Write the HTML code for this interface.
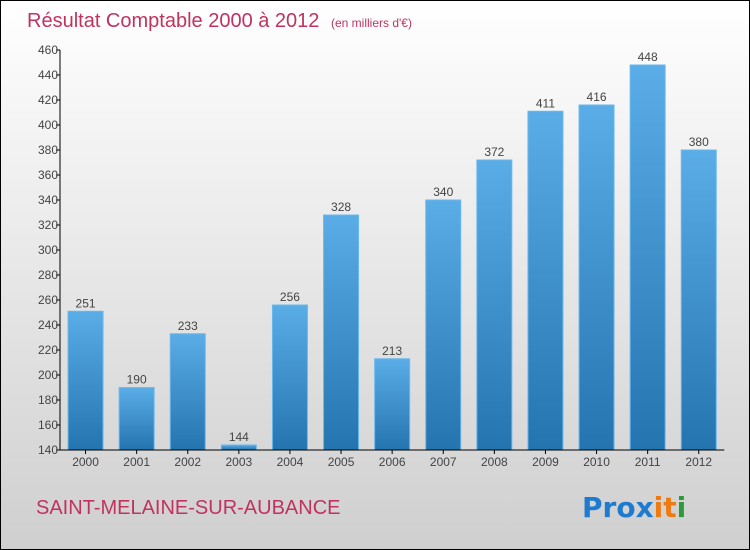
<!DOCTYPE html>
<html><head><meta charset="utf-8"><style>
body{margin:0}
svg{display:block;font-family:"Liberation Sans",sans-serif}
</style></head><body>
<svg width="750" height="550" viewBox="0 0 750 550" xmlns="http://www.w3.org/2000/svg">
<defs>
<linearGradient id="bg" x1="0" y1="0" x2="0" y2="1"><stop offset="0" stop-color="#ffffff"/><stop offset="1" stop-color="#cfcfcf"/></linearGradient>
<linearGradient id="bar" x1="0" y1="0" x2="0" y2="1"><stop offset="0" stop-color="#5aade6"/><stop offset="1" stop-color="#2474b0"/></linearGradient>
</defs>
<rect x="0.5" y="0.5" width="749" height="549" fill="url(#bg)" stroke="#000"/>
<text x="27" y="27" font-size="20" fill="#c0335f">Résultat Comptable 2000 à 2012 <tspan font-size="12" dx="6">(en milliers d'€)</tspan></text>
<g id="bars"></g>
<g id="axes"></g>
<text x="36" y="514" font-size="20" fill="#c0335f">SAINT-MELAINE-SUR-AUBANCE</text>
<g font-size="28" font-weight="bold" font-family="'DejaVu Sans',sans-serif">
<text x="582" y="517"><tspan fill="#1e7bd0">Pro</tspan><tspan fill="#1e7bd0">x</tspan><tspan fill="#f07a10">i</tspan><tspan fill="#f07a10">t</tspan><tspan fill="#2a9a3a">i</tspan></text>
</g>
</svg>
<script>
const categories=["2000","2001","2002","2003","2004","2005","2006","2007","2008","2009","2010","2011","2012"];
const values=[251,190,233,144,256,328,213,340,372,411,416,448,380];
const yTicks=[140,160,180,200,220,240,260,280,300,320,340,360,380,400,420,440,460];
const NS="http://www.w3.org/2000/svg";
const x0=60,band=51.1,y0=450,yMin=140,yMax=460,plotH=400;
const y=v=>y0-(v-yMin)/(yMax-yMin)*plotH;
const bx=i=>x0+band*(i+0.5);
function mk(tag,attrs,parent){const e=document.createElementNS(NS,tag);for(const k in attrs)e.setAttribute(k,attrs[k]);parent.appendChild(e);return e;}
const gb=document.getElementById('bars'),ga=document.getElementById('axes');
values.forEach((v,i)=>{
 const r=mk('rect',{x:bx(i)-17.5,y:y(v),width:35,height:y0-y(v),fill:'url(#bar)',stroke:'#6bb8ec','stroke-width':1},gb);
 
 
 const t=mk('text',{x:bx(i),y:y(v)-4,'text-anchor':'middle','font-size':12,fill:'#444'},gb);
 t.textContent=v;
 
 
 const c=mk('text',{x:bx(i),y:466,'text-anchor':'middle','font-size':12,fill:'#444'},ga);
 c.textContent=categories[i];
 
 
 mk('line',{x1:bx(i),x2:bx(i),y1:y0,y2:y0+4,stroke:'#000'},ga);
});
yTicks.forEach(v=>{
 mk('line',{x1:x0-4,x2:x0,y1:y(v),y2:y(v),stroke:'#000'},ga);
 const t=mk('text',{x:x0-2,y:y(v)+4,'text-anchor':'end','font-size':12,fill:'#444'},ga);
 t.textContent=v;
 
 
});
const ya=mk('line',{x1:x0,x2:x0,y1:y(yMax),y2:y0,stroke:'#000'},ga);


const xa=mk('line',{x1:x0,x2:x0+band*categories.length,y1:y0,y2:y0,stroke:'#000'},ga);


</script>
</body></html>
